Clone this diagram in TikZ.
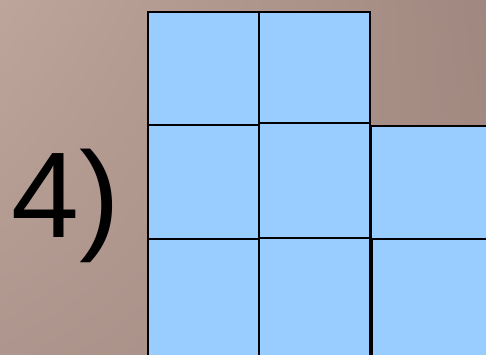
\documentclass[tikz,border=0pt]{standalone}
\usepackage{fontspec}
\setmainfont{Liberation Sans}
\usetikzlibrary{shadings}
\definecolor{bgUL}{HTML}{BEA59B}
\definecolor{bgUR}{HTML}{A08880}
\definecolor{bgLL}{HTML}{AE968E}
\definecolor{bgLR}{HTML}{A48B82}
\definecolor{sqblue}{HTML}{99CCFF}
\tikzset{
  sq/.style={draw=black, line width=1.5pt, fill=sqblue},
  label4/.style={font=\fontsize{122}{122}\selectfont, inner sep=0pt, anchor=base west}
}
\begin{document}
\begin{tikzpicture}[x=1pt,y=-1pt]
\useasboundingbox (0,0) rectangle (486,355);
\shade[upper left=bgUL, upper right=bgUR, lower left=bgLL, lower right=bgLR] (0,0) rectangle (486,355);
\node[label4] (num) at (11,237.5) {4)};
% top row
\draw[sq] (148,12) rectangle (259,125);
\draw[sq] (259,12) rectangle (370,123);
% middle row
\draw[sq] (148,125) rectangle (259,239);
\draw[sq] (259,123) rectangle (370,238);
\draw[sq] (371,126) rectangle (489,239);
% bottom row
\draw[sq] (148,239) rectangle (259,358);
\draw[sq] (259,238) rectangle (370,358);
\draw[sq] (372,239) rectangle (489,358);
\end{tikzpicture}
\end{document}
